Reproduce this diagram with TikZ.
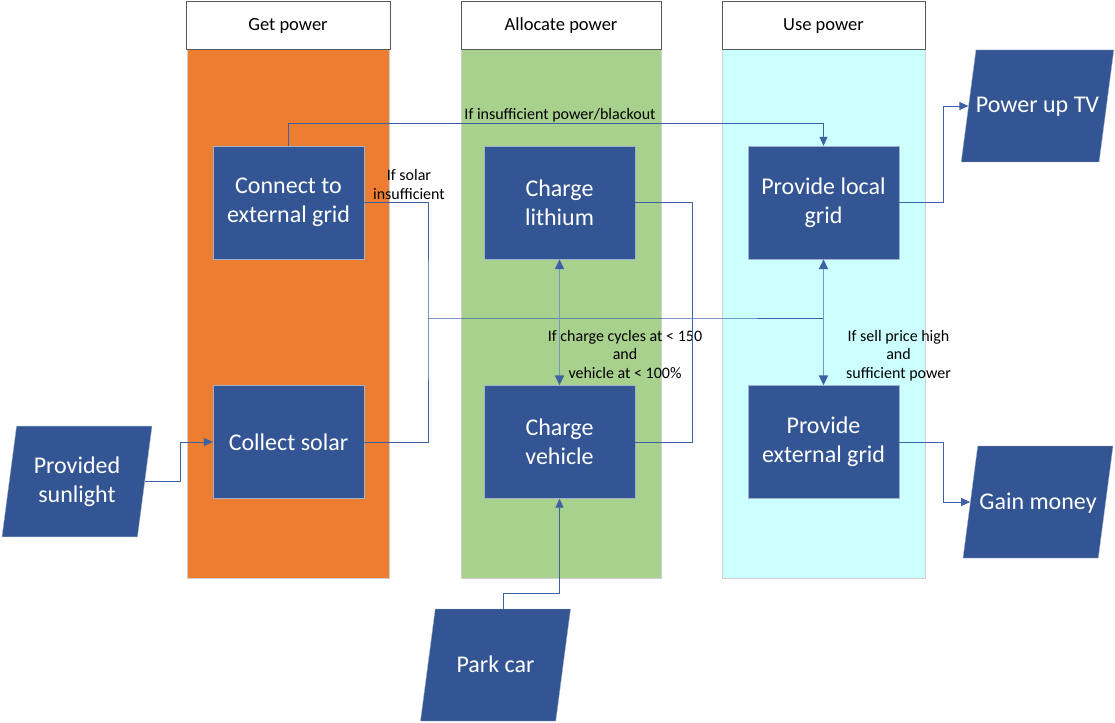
\documentclass[tikz,border=0pt]{standalone}
\usepackage{fontspec}
\setmainfont{Carlito}
\usetikzlibrary{shapes.geometric,arrows.meta}
\definecolor{laneorange}{HTML}{ED7D31}
\definecolor{lanegreen}{HTML}{A9D18E}
\definecolor{lanecyan}{HTML}{CCFFFF}
\definecolor{lanegrey}{HTML}{D0D0D0}
\definecolor{headgrey}{HTML}{595959}
\definecolor{boxblue}{HTML}{335593}
\definecolor{boxedge}{HTML}{A3B2CC}
\definecolor{linkblue}{HTML}{3E60A4}
\definecolor{dblblue}{HTML}{7A95C8}
\begin{document}
\begin{tikzpicture}[
        x=1pt, y=-1pt,
        lane/.style={draw=lanegrey, minimum height=529pt, inner sep=0pt},
        header/.style={draw=headgrey, fill=white, line width=0.8pt, minimum height=48pt, inner sep=0pt, text height=12pt, text depth=0pt, font=\fontsize{18.5}{20}\selectfont},
        process/.style={draw=boxedge, fill=boxblue, text=white, minimum width=151pt, minimum height=113pt, inner sep=0pt, align=center, font=\fontsize{24}{29}\selectfont},
        data/.style={trapezium, trapezium left angle=82.5, trapezium right angle=97.5, trapezium stretches body=true, draw=boxedge, fill=boxblue, text=white, minimum width=150pt, inner xsep=0pt, align=center, font=\fontsize{24}{29}\selectfont},
        dataone/.style={data, text height=18pt, text depth=4pt, inner ysep=45pt},
        link/.style={draw=linkblue, line width=0.8pt},
        arr/.style={link, -{Triangle[width=8pt,length=9pt]}},
        dbl/.style={draw=dblblue, line width=1.6pt, {Triangle[width=9pt,length=10pt,color=linkblue]}-{Triangle[width=9pt,length=10pt,color=linkblue]}},
        cond/.style={align=center, font=\fontsize{16}{18.5}\selectfont},
    ]
    \useasboundingbox (0,0) rectangle (1115,722);
    % swimlanes
    \node[lane, fill=laneorange, minimum width=202pt] (getlane) at (288,313.5) {};
    \node[lane, fill=lanegreen, minimum width=200pt] (alloclane) at (561,313.5) {};
    \node[lane, fill=lanecyan, minimum width=203pt] (uselane) at (823.5,313.5) {};
    \node[header, minimum width=204pt] (gethdr) at (288,25) {Get power};
    \node[header, minimum width=200pt] (allochdr) at (561,25) {Allocate power};
    \node[header, minimum width=203pt] (usehdr) at (823.5,25) {Use power};
    % processes
    \node[process] (connect) at (288.5,202.5) {Connect to\\external grid};
    \node[process] (collect) at (288.5,442) {Collect solar};
    \node[process] (lithium) at (559.5,202.5) {Charge\\lithium};
    \node[process] (vehicle) at (559.5,442) {Charge\\vehicle};
    \node[process] (local) at (823.5,202.5) {Provide local\\grid};
    \node[process] (extgrid) at (823.5,442) {Provide\\external grid};
    % inputs and outputs
    \node[data, inner ysep=30.5pt] (sun) at (77,481.5) {Provided\\sunlight};
    \node[dataone] (park) at (495.5,665) {Park car};
    \node[dataone] (tv) at (1037.5,106) {Power up TV};
    \node[dataone] (money) at (1038,502) {Gain money};
    % conditions
    \node[cond] (blackout) at (560,115) {If insufficient power/blackout};
    \node[cond] (solarlow) at (409,184.5) {If solar\\insufficient};
    \node[cond] (cycles) at (625,354.5) {If charge cycles at < 150\\and\\vehicle at < 100\%};
    \node[cond] (sell) at (898.5,355.5) {If sell price high\\and\\sufficient power};
    % power bus
    \coordinate (jleft) at (428,318);
    \coordinate (jright) at (692,318);
    \draw[link] (connect.east) -| (jleft) |- (collect.east);
    \draw[link] (lithium.east) -| (jright) |- (vehicle.east);
    \draw[link] (jleft) -- (jright) -- (jright -| local.south);
    % connectors
    \draw[arr] (connect.north) -- ++(0,-22) -| (local.north);
    \draw[dbl] (lithium.south) -- (vehicle.north);
    \draw[dbl] (local.south) -- (extgrid.north);
    \draw[arr] (local.east) -- ++(44,0) |- (tv.left side);
    \draw[arr] (extgrid.east) -- ++(44,0) |- (money.left side);
    \draw[arr] (sun.right side) -- ++(35,0) |- (collect.west);
    \draw[arr] (park.top side) -- ++(0,-15) -| (vehicle.south);
\end{tikzpicture}
\end{document}
